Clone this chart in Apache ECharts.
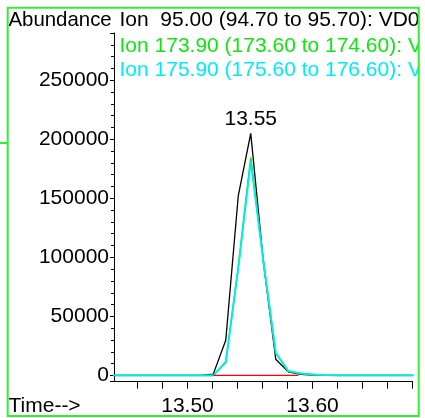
<!DOCTYPE html>
<html>
<head>
<meta charset="utf-8">
<script src="https://cdn.jsdelivr.net/npm/echarts@6/dist/echarts.min.js"></script>
<style>
  html, body { margin: 0; padding: 0; background: #fff; }
  #chart { width: 425px; height: 418px; }
</style>
</head>
<body>
<div id="chart"></div>
<script>
// ---- data ----
const times = [13.4406, 13.4506, 13.4606, 13.4706, 13.4806, 13.4906, 13.5006, 13.5106,
               13.5206, 13.5306, 13.5406, 13.5506, 13.5606, 13.5706, 13.5806, 13.5906,
               13.6006, 13.6106, 13.6206, 13.6306, 13.6406, 13.6506, 13.6606, 13.6706, 13.6806];
const ion95  = [0, 0, 0, 0, 0, 0, 0, 0,
                1100, 29800, 152000, 205000, 97000, 13700, 3000, 1000,
                300, 0, 0, 0, 0, 0, 0, 0, 0];
const ion174 = [0, 0, 0, 0, 0, 0, 0, 0,
                0, 11500, 92000, 184500, 98000, 19000, 3500, 1500,
                700, 200, 0, 0, 0, 0, 0, 0, 0];
const ion176 = [0, 0, 0, 0, 0, 0, 0, 0,
                0, 10800, 90000, 181000, 97000, 19300, 3800, 1700,
                800, 300, 0, 0, 0, 0, 0, 0, 0];
const baselineTimes = [13.5206, 13.5886];
const baselineValues = [0, 0];
const xTickLabels = ['13.50', '13.60'];
const yTickLabels = ['0', '50000', '100000', '150000', '200000', '250000'];
const ionLabels = [
  'Abundance',
  'Ion  95.00 (94.70 to 95.70): VD0',
  'Ion 173.90 (173.60 to 174.60): V',
  'Ion 175.90 (175.60 to 176.60): V'
];

// ---- chart ----
const FONT = '"Liberation Sans", Arial, sans-serif';
const FS = 21;
const GREEN = '#11e611';
const CYAN = '#00ecf5';
const FRAME = '#33ee33';

const pairs = (xs, ys) => xs.map((t, i) => [t, ys[i]]);
let peakIdx = 0;
ion95.forEach((v, i) => { if (v > ion95[peakIdx]) peakIdx = i; });

const txt = (color, size) => ({ fontFamily: FONT, fontSize: size || FS, fontWeight: 'normal', color });

const chart = echarts.init(document.getElementById('chart'), null, { renderer: 'canvas' });
chart.setOption({
  animation: false,
  backgroundColor: '#fff',
  textStyle: { fontFamily: FONT },
  grid: { left: 114, right: 12.5, top: 33, bottom: 36.3, containLabel: false },
  title: [
    { text: ionLabels[0], left: 8.5, top: 10.4, padding: 0, textStyle: txt('#000', 20.4) },
    { text: ionLabels[1], left: 119.5, top: 10, padding: 0, textStyle: txt('#000') },
    { text: ionLabels[2], left: 119.5, top: 36, padding: 0, textStyle: txt(GREEN) },
    { text: ionLabels[3], left: 119.5, top: 60, padding: 0, textStyle: txt(CYAN) },
    { text: 'Time-->', left: 8.5, top: 395.7, padding: 0, textStyle: txt('#000') }
  ],
  xAxis: {
    type: 'value',
    min: 13.4412,
    max: 13.68,
    splitNumber: 12,
    axisLine: { show: true, onZero: false, lineStyle: { color: '#000', width: 1 } },
    axisTick: { show: true, length: 7, lineStyle: { color: '#000' } },
    splitLine: { show: false },
    axisLabel: {
      margin: 14,
      fontFamily: FONT, fontSize: FS, color: '#000',
      showMinLabel: false,
      formatter: v => {
        const s = v.toFixed(2);
        return (xTickLabels.includes(s) && Math.abs(v - parseFloat(s)) < 1e-6) ? s : '';
      }
    }
  },
  yAxis: {
    type: 'value',
    min: -5300,
    max: 290000,
    splitNumber: 6,
    axisLine: { show: true, onZero: false, lineStyle: { color: '#000', width: 1 } },
    axisTick: { show: true, length: 4, lineStyle: { color: '#000' } },
    minorTick: { show: true, splitNumber: 5, length: 3, lineStyle: { color: '#000' } },
    splitLine: { show: false },
    axisLabel: {
      margin: 5,
      fontFamily: FONT, fontSize: FS, color: '#000',
      formatter: v => yTickLabels.includes(String(v)) ? String(v) : ''
    }
  },
  series: [
    {
      name: 'ion95', type: 'line', data: pairs(times, ion95), showSymbol: false,
      lineStyle: { color: '#000', width: 1.3 }, itemStyle: { color: '#000' }, z: 2,
      markPoint: {
        symbol: 'circle', symbolSize: 1,
        itemStyle: { color: 'rgba(0,0,0,0)' },
        label: {
          show: true, position: 'top', distance: 3,
          fontFamily: FONT, fontSize: FS, color: '#000',
          formatter: p => Number(p.value).toFixed(2)
        },
        data: [{ coord: [times[peakIdx], ion95[peakIdx]], value: times[peakIdx] }]
      }
    },
    {
      name: 'ion174', type: 'line', data: pairs(times, ion174), showSymbol: false,
      lineStyle: { color: GREEN, width: 1.6 }, itemStyle: { color: GREEN }, z: 3
    },
    {
      name: 'ion176', type: 'line', data: pairs(times, ion176), showSymbol: false,
      lineStyle: { color: CYAN, width: 1.8 }, itemStyle: { color: CYAN }, z: 4
    },
    {
      name: 'baseline', type: 'line', data: pairs(baselineTimes, baselineValues), showSymbol: false,
      lineStyle: { color: '#ff0000', width: 1.3 }, itemStyle: { color: '#ff0000' }, z: 5
    }
  ],
  graphic: [
    { type: 'rect', z: 100, silent: true, shape: { x: 419.5, y: 0, width: 6, height: 418 }, style: { fill: '#fff' } },
    { type: 'rect', z: 101, silent: true, shape: { x: 7.7, y: 7.7, width: 411, height: 408.3 }, style: { fill: 'none', stroke: FRAME, lineWidth: 2 } },
    { type: 'line', z: 101, silent: true, shape: { x1: 0, y1: 143, x2: 7.7, y2: 143 }, style: { stroke: FRAME, lineWidth: 2 } }
  ]
});
</script>
</body>
</html>
